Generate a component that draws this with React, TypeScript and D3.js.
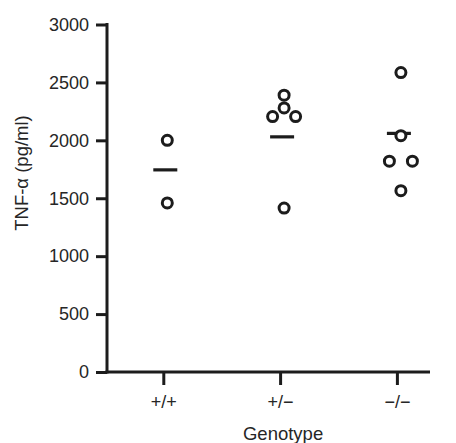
import React, { useEffect, useRef } from "react";
import * as d3 from "d3";

// genotype groups and read-off values (pg/ml)
const genotypes = ["+/+", "+/\u2212", "\u2212/\u2212"];
const wtValues = [2000, 1460];
const wtSpread = [0, 0];
const hetValues = [2390, 2280, 2205, 2205, 1415];
const hetSpread = [0, 0, -1, 1, 0];
const koValues = [2585, 2040, 1820, 1820, 1565];
const koSpread = [0, 0, -1, 1, 0];
const groupMeans = [1745, 2030, 2060];
const yTicks = [0, 500, 1000, 1500, 2000, 2500, 3000];

const W = 456;
const H = 443;
const INK = "#1c1c1c";
const TEXT = "#262626";
const FONT = "'Liberation Sans', Arial, sans-serif";

export default function App() {
  const svgRef = useRef<SVGSVGElement>(null);

  useEffect(() => {
    const svg = d3.select(svgRef.current);
    svg.selectAll("*").remove();

    const axisX = 107;
    const axisRight = 430;

    const x = d3.scalePoint<string>().domain(genotypes).range([163.3, 396.9]);
    const y = d3.scaleLinear().domain([0, 3000]).range([372, 24.5]);

    const groups = [
      { g: genotypes[0], values: wtValues, spread: wtSpread },
      { g: genotypes[1], values: hetValues, spread: hetSpread },
      { g: genotypes[2], values: koValues, spread: koSpread },
    ];

    // y axis
    const yAxis = svg
      .append("g")
      .attr("transform", `translate(${axisX},0)`)
      .call(
        d3
          .axisLeft(y)
          .tickValues(yTicks)
          .tickFormat(d3.format("d"))
          .tickSize(11)
          .tickSizeOuter(0)
          .tickPadding(7)
      );
    yAxis.select(".domain").remove();
    yAxis.selectAll(".tick line").attr("stroke", INK).attr("stroke-width", 3);
    yAxis
      .selectAll(".tick text")
      .attr("fill", TEXT)
      .style("font-family", FONT)
      .style("font-size", "18px");
    svg
      .append("line")
      .attr("x1", axisX)
      .attr("x2", axisX)
      .attr("y1", y(0) + 1.5)
      .attr("y2", y(3000) - 1.5)
      .attr("stroke", INK)
      .attr("stroke-width", 3);

    // x axis
    const xAxis = svg
      .append("g")
      .attr("transform", `translate(0,${y(0)})`)
      .call(d3.axisBottom(x).tickSize(13).tickSizeOuter(0).tickPadding(10));
    xAxis.select(".domain").remove();
    xAxis.selectAll(".tick line").attr("stroke", INK).attr("stroke-width", 3);
    xAxis
      .selectAll(".tick text")
      .attr("fill", TEXT)
      .style("font-family", FONT)
      .style("font-size", "18px");
    svg
      .append("line")
      .attr("x1", axisX - 1.5)
      .attr("x2", axisRight)
      .attr("y1", y(0))
      .attr("y2", y(0))
      .attr("stroke", INK)
      .attr("stroke-width", 3);

    // mean lines
    svg
      .append("g")
      .selectAll("line")
      .data(genotypes)
      .join("line")
      .attr("x1", (d) => x(d)! + 2 - 12)
      .attr("x2", (d) => x(d)! + 2 + 12)
      .attr("y1", (d, i) => y(groupMeans[i]))
      .attr("y2", (d, i) => y(groupMeans[i]))
      .attr("stroke", INK)
      .attr("stroke-width", 3.2);

    // individual values
    const dx = 4;
    const step = 11.5;
    groups.forEach((grp) => {
      svg
        .append("g")
        .selectAll("circle")
        .data(grp.values)
        .join("circle")
        .attr("cx", (d, i) => x(grp.g)! + dx + grp.spread[i] * step)
        .attr("cy", (d) => y(d))
        .attr("r", 5)
        .attr("fill", "white")
        .attr("stroke", INK)
        .attr("stroke-width", 3);
    });

    // axis titles
    svg
      .append("text")
      .attr("x", x(genotypes[1])! + 3)
      .attr("y", 440)
      .attr("text-anchor", "middle")
      .attr("fill", TEXT)
      .style("font-family", FONT)
      .style("font-size", "18.5px")
      .text("Genotype");

    svg
      .append("text")
      .attr("transform", `translate(28,173) rotate(-90)`)
      .attr("text-anchor", "middle")
      .attr("fill", TEXT)
      .style("font-family", FONT)
      .style("font-size", "18.5px")
      .text("TNF-\u03b1 (pg/ml)");
  }, []);

  return (
    <svg
      ref={svgRef}
      width={W}
      height={H}
      style={{ position: "absolute", left: 0, top: 0, background: "white" }}
    />
  );
}
